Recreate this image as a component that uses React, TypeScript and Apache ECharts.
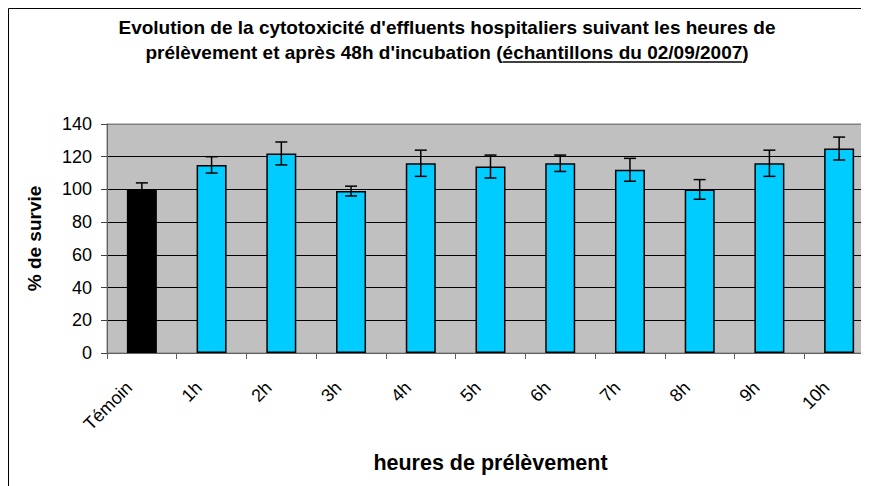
import React, { useEffect, useRef } from "react";
import * as echarts from "echarts";

const categories = ["Témoin", "1h", "2h", "3h", "4h", "5h", "6h", "7h", "8h", "9h", "10h"];
const survival = [100, 115, 122, 99, 116, 114, 116, 112, 100, 116, 125];
const errors = [4, 5, 7, 3, 8, 7, 5, 7, 6, 8, 7];
const yMin = 0;
const yMax = 140;
const yStep = 20;

const titleLine1 = "Evolution de la cytotoxicité d'effluents hospitaliers suivant les heures de";
const titleLine2Start = "prélèvement et après 48h d'incubation (";
const titleLine2Under = "échantillons du 02/09/2007";
const titleLine2End = ")";
const yName = "% de survie";
const xName = "heures de prélèvement";

const FONT = "'Liberation Sans', Arial, Helvetica, sans-serif";

function measure(text: string, font: string): number {
  const ctx = document.createElement("canvas").getContext("2d");
  if (!ctx) return text.length * 9;
  ctx.font = font;
  return ctx.measureText(text).width;
}

export default function App() {
  const ref = useRef<HTMLDivElement>(null);
  useEffect(() => {
    if (!ref.current) return;
    const prevBody = document.body.style.overflow;
    const prevHtml = document.documentElement.style.overflow;
    document.body.style.overflow = "hidden";
    document.documentElement.style.overflow = "hidden";
    const chart = echarts.init(ref.current, undefined, { renderer: "svg" });
    const titleSize = 19;
    const tFont = `bold ${titleSize}px ${FONT}`;
    const cx = 439;
    const w1 = measure(titleLine2Start, tFont);
    const w2 = measure(titleLine2Under, tFont);
    const w3 = measure(titleLine2End, tFont);
    const startX = cx - (w1 + w2 + w3) / 2;
    const line2Y = 44;

    const option: any = {
      animation: false,
      grid: {
        left: 99,
        top: 116,
        width: 767,
        height: 229,
        show: true,
        backgroundColor: "#C0C0C0",
        borderColor: "#808080",
        borderWidth: 1,
      },
      graphic: [
        {
          type: "rect",
          shape: { x: 0.5, y: 0.5, width: 1000, height: 700 },
          style: { fill: "none", stroke: "#000", lineWidth: 1 },
          silent: true,
        },
        {
          type: "text",
          x: cx,
          y: 19,
          style: {
            text: titleLine1,
            font: tFont,
            fill: "#000",
            align: "center",
            verticalAlign: "middle",
          },
        },
        {
          type: "text",
          x: startX,
          y: line2Y,
          style: {
            text: titleLine2Start + titleLine2Under + titleLine2End,
            font: tFont,
            fill: "#000",
            align: "left",
            verticalAlign: "middle",
          },
        },
        {
          type: "line",
          shape: { x1: startX + w1, y1: line2Y + 10, x2: startX + w1 + w2, y2: line2Y + 10 },
          style: { stroke: "#000", lineWidth: 1.3 },
        },
      ],
      xAxis: {
        type: "category",
        data: categories,
        name: xName,
        nameLocation: "middle",
        nameGap: 99,
        nameTextStyle: { fontFamily: FONT, fontWeight: "bold", fontSize: 21.5, color: "#000" },
        axisLine: { lineStyle: { color: "#606060", width: 1 } },
        axisTick: { show: true, interval: 0, length: 6, lineStyle: { color: "#606060" } },
        axisLabel: {
          interval: 0,
          rotate: 45,
          margin: 19,
          padding: [0, 18, 0, 0],
          fontFamily: FONT,
          fontSize: 18,
          color: "#000",
        },
        splitLine: { show: false },
      },
      yAxis: {
        type: "value",
        min: yMin,
        max: yMax,
        interval: yStep,
        name: yName,
        nameLocation: "middle",
        nameRotate: 90,
        nameGap: 63,
        nameTextStyle: { fontFamily: FONT, fontWeight: "bold", fontSize: 19, color: "#000" },
        axisLine: { show: true, lineStyle: { color: "#606060", width: 1 } },
        axisTick: { show: true, length: 6, lineStyle: { color: "#404040" } },
        axisLabel: { margin: 15, fontFamily: FONT, fontSize: 18, color: "#000" },
        splitLine: {
          show: true,
          lineStyle: {
            color: ["#808080", "#000", "#000", "#000", "#000", "#000", "#000", "#808080"],
            width: 1,
          },
        },
      },
      series: [
        {
          type: "bar",
          barWidth: "43%",
          data: survival.map((v, i) => ({
            value: v,
            itemStyle: {
              color: i === 0 ? "#000000" : "#00CCFF",
              borderColor: "#000",
              borderWidth: 1.5,
            },
          })),
        },
        {
          type: "custom",
          z: 10,
          encode: { x: 0, y: [1, 2] },
          data: survival.map((v, i) => [i, v - errors[i], v + errors[i]]),
          renderItem: (params: any, api: any) => {
            const x = api.value(0);
            const lo = api.coord([x, api.value(1)]);
            const hi = api.coord([x, api.value(2)]);
            const half = 6;
            const st = { stroke: "#000", lineWidth: 1.5 };
            return {
              type: "group",
              children: [
                { type: "line", shape: { x1: lo[0], y1: lo[1], x2: hi[0], y2: hi[1] }, style: st },
                { type: "line", shape: { x1: lo[0] - half, y1: lo[1], x2: lo[0] + half, y2: lo[1] }, style: st },
                { type: "line", shape: { x1: hi[0] - half, y1: hi[1], x2: hi[0] + half, y2: hi[1] }, style: st },
              ],
            };
          },
        },
      ],
    };
    chart.setOption(option);
    return () => {
      chart.dispose();
      document.body.style.overflow = prevBody;
      document.documentElement.style.overflow = prevHtml;
    };
  }, []);
  return <div ref={ref} style={{ width: 890, height: 478 }} />;
}
